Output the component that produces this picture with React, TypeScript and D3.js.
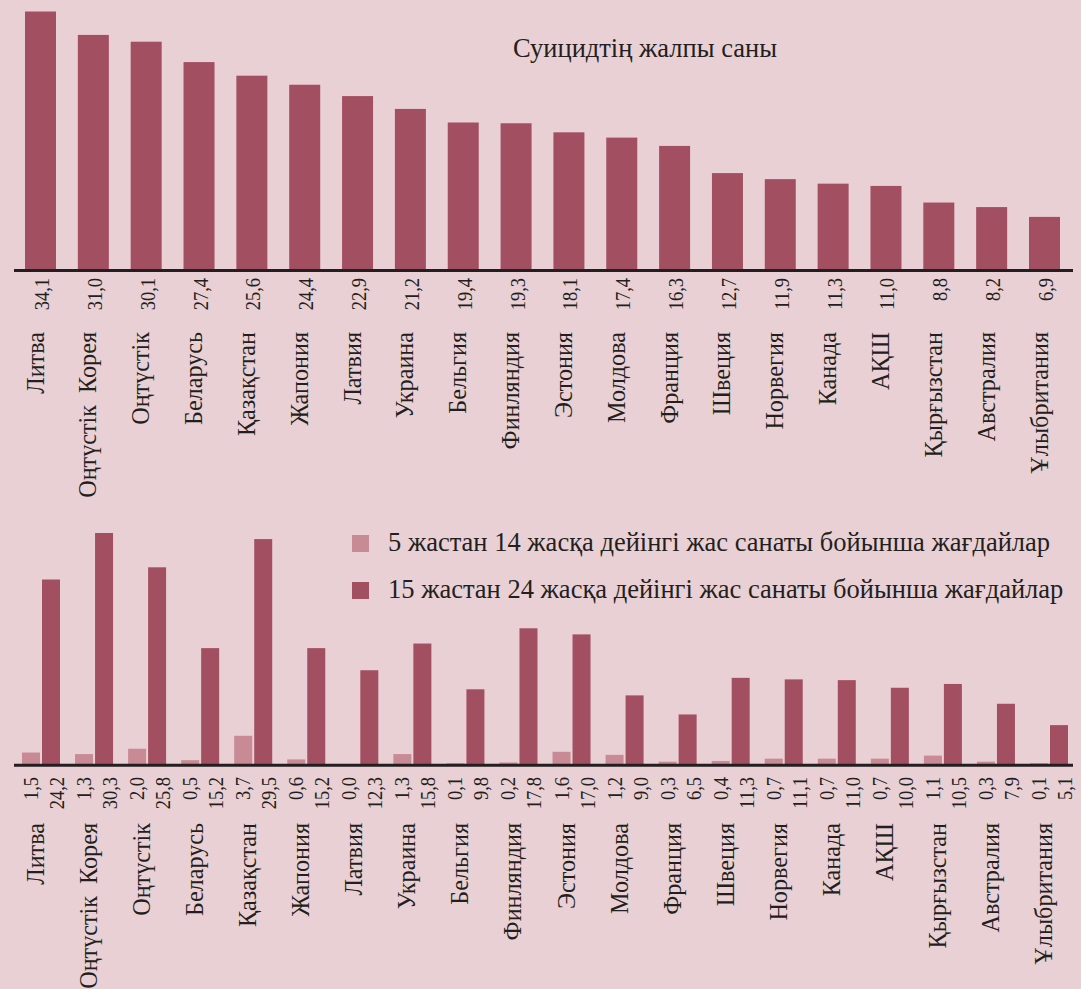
import React from "react";
import * as d3 from "d3";

const countries = [
  "Литва", "Оңтүстік  Корея", "Оңтүстік", "Беларусь", "Қазақстан", "Жапония",
  "Латвия", "Украина", "Бельгия", "Финляндия", "Эстония", "Молдова", "Франция",
  "Швеция", "Норвегия", "Канада", "АҚШ", "Қырғызстан", "Австралия", "Ұлыбритания",
];
const totalValues = [34.1, 31.0, 30.1, 27.4, 25.6, 24.4, 22.9, 21.2, 19.4, 19.3, 18.1, 17.4, 16.3, 12.7, 11.9, 11.3, 11.0, 8.8, 8.2, 6.9];
const age5to14 = [1.5, 1.3, 2.0, 0.5, 3.7, 0.6, 0.0, 1.3, 0.1, 0.2, 1.6, 1.2, 0.3, 0.4, 0.7, 0.7, 0.7, 1.1, 0.3, 0.1];
const age15to24 = [24.2, 30.3, 25.8, 15.2, 29.5, 15.2, 12.3, 15.8, 9.8, 17.8, 17.0, 9.0, 6.5, 11.3, 11.1, 11.0, 10.0, 10.5, 7.9, 5.1];
const topTitle = "Суицидтің жалпы саны";
const legendLabels = [
  "5 жастан 14 жасқа дейінгі жас санаты бойынша жағдайлар",
  "15 жастан 24 жасқа дейінгі жас санаты бойынша жағдайлар",
];

const W = 1081;
const H = 989;
const BG = "#e9d0d4";
const DARK = "#a34f62";
const LIGHT = "#c88a94";
const INK = "#231f20";
const FONT = "'Liberation Serif', 'DejaVu Serif', serif";

const fmt = (v: number) => v.toFixed(1).replace(".", ",");

export default function App() {
  const xTop = d3.scalePoint<string>().domain(countries).range([40.5, 1044.5]);
  const yTop = d3.scaleLinear().domain([0, 34.1]).range([269, 11.5]);
  const barW = 31;

  const xBot = d3.scalePoint<string>().domain(countries).range([41, 1049]);
  const yBot = d3.scaleLinear().domain([0, 30.3]).range([764, 533]);
  const gBarW = 18;

  const valSX = 0.88;
  const nameSX = 0.93;

  return (
    <svg
      width={W}
      height={H}
      viewBox={`0 0 ${W} ${H}`}
      style={{ position: "absolute", left: 0, top: 0, display: "block" }}
      fontFamily={FONT}
    >
      <rect x={0} y={0} width={W} height={H} fill={BG} />

      {/* Top chart */}
      {countries.map((c, i) => (
        <rect
          key={"tb" + i}
          x={(xTop(c) as number) - barW / 2}
          y={yTop(totalValues[i])}
          width={barW}
          height={yTop(0) - yTop(totalValues[i])}
          fill={DARK}
        />
      ))}
      <line x1={14} x2={1073} y1={270.5} y2={270.5} stroke={INK} strokeWidth={3} />
      {countries.map((c, i) => (
        <text
          key={"tv" + i}
          transform={`translate(${(xTop(c) as number) + 8.5},278) rotate(-90) scale(${valSX},1)`}
          textAnchor="end"
          fontSize={21}
          fill={INK}
        >
          {fmt(totalValues[i])}
        </text>
      ))}
      {countries.map((c, i) => (
        <text
          key={"tn" + i}
          transform={`translate(${(xTop(c) as number) + 3},332) rotate(-90) scale(${nameSX},1)`}
          textAnchor="end"
          fontSize={26}
          fill={INK}
          style={{ whiteSpace: "pre" }}
        >
          {c}
        </text>
      ))}
      <text x={513} y={57} fontSize={26.5} fill={INK}>
        {topTitle}
      </text>

      {/* Bottom chart */}
      {countries.map((c, i) => (
        <g key={"bg" + i}>
          <rect
            x={(xBot(c) as number) - 1 - gBarW}
            y={yBot(age5to14[i])}
            width={gBarW}
            height={yBot(0) - yBot(age5to14[i])}
            fill={LIGHT}
          />
          <rect
            x={(xBot(c) as number) + 1}
            y={yBot(age15to24[i])}
            width={gBarW}
            height={yBot(0) - yBot(age15to24[i])}
            fill={DARK}
          />
        </g>
      ))}
      <line x1={14} x2={1073} y1={765.2} y2={765.2} stroke={INK} strokeWidth={3} />
      {countries.map((c, i) => (
        <g key={"bv" + i}>
          <text
            transform={`translate(${(xBot(c) as number) - 3},777) rotate(-90) scale(${valSX},1)`}
            textAnchor="end"
            fontSize={21}
            fill={INK}
          >
            {fmt(age5to14[i])}
          </text>
          <text
            transform={`translate(${(xBot(c) as number) + 23},777) rotate(-90) scale(${valSX},1)`}
            textAnchor="end"
            fontSize={21}
            fill={INK}
          >
            {fmt(age15to24[i])}
          </text>
        </g>
      ))}
      {countries.map((c, i) => (
        <text
          key={"bn" + i}
          transform={`translate(${(xBot(c) as number) + 3},823) rotate(-90) scale(${nameSX},1)`}
          textAnchor="end"
          fontSize={26}
          fill={INK}
          style={{ whiteSpace: "pre" }}
        >
          {c}
        </text>
      ))}

      {/* Legend */}
      {legendLabels.map((l, i) => (
        <g key={"lg" + i} transform={`translate(352,${535 + i * 47})`}>
          <rect x={0} y={0} width={17} height={17} fill={i === 0 ? LIGHT : DARK} />
          <text x={36} y={16} fontSize={26.5} fill={INK}>
            {l}
          </text>
        </g>
      ))}
    </svg>
  );
}
